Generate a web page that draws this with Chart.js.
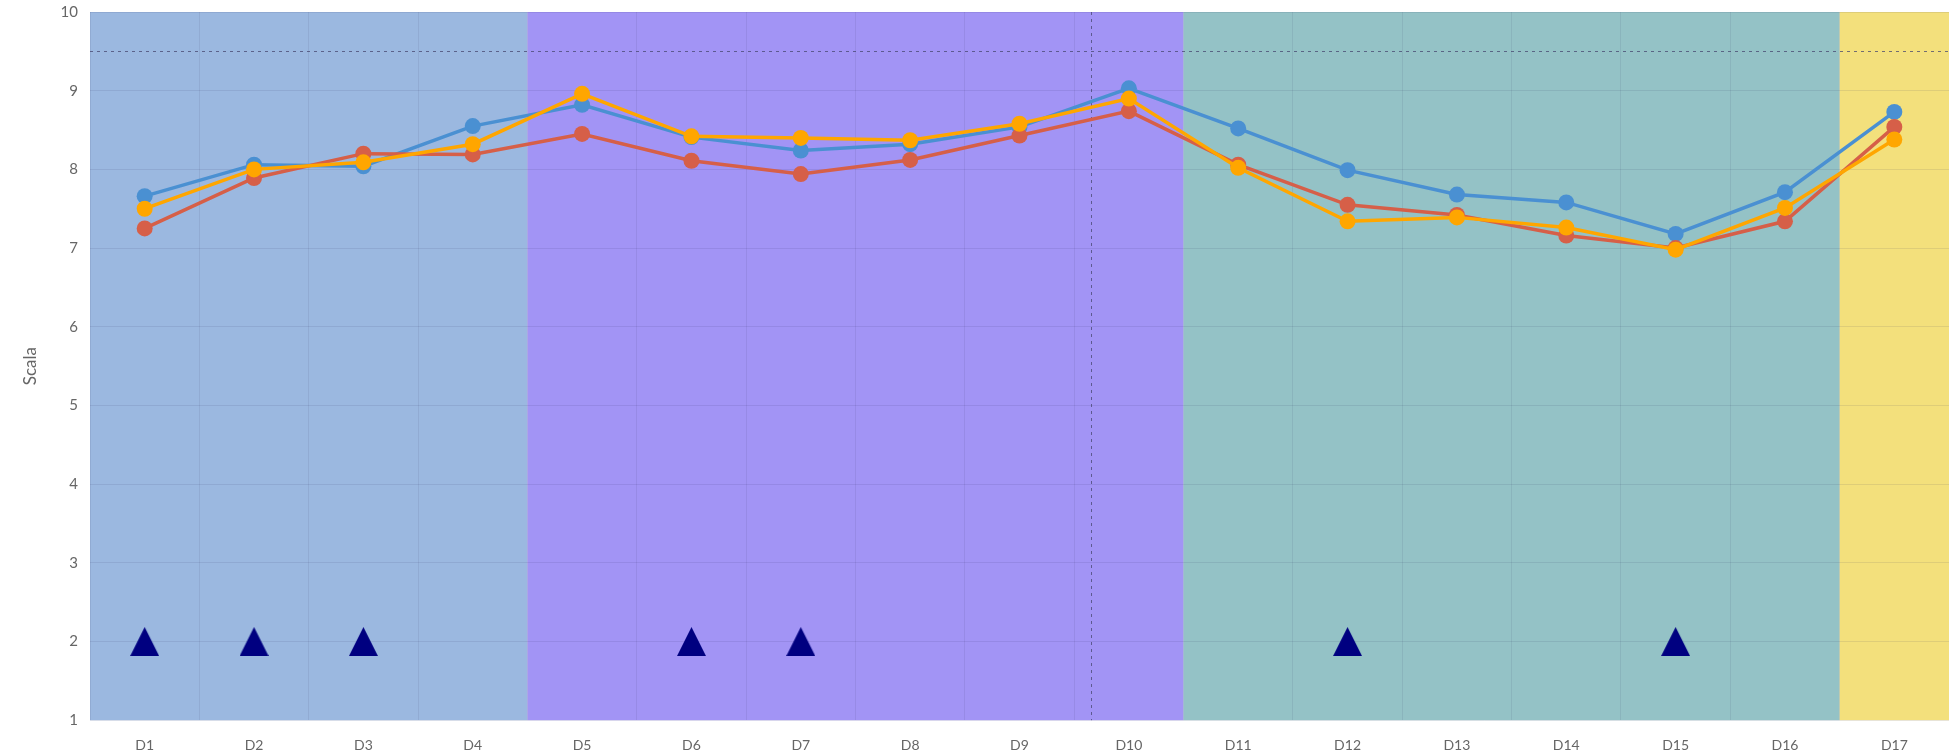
<!DOCTYPE html>
<html>
<head>
<meta charset="utf-8">
<title>Scala</title>
<script src="https://cdn.jsdelivr.net/npm/chart.js@4/dist/chart.umd.min.js"></script>
<style>
    body { margin: 0; background: #ffffff; }
    #wrap { width: 1949px; height: 756px; }
</style>
</head>
<body>
<div id="wrap"><canvas id="scalaChart"></canvas></div>
<script>
"use strict";

/* ---------- data ---------- */

const categories = [
    "D1", "D2", "D3", "D4", "D5", "D6", "D7", "D8", "D9",
    "D10", "D11", "D12", "D13", "D14", "D15", "D16", "D17"
];

const seriesBlue = [
    7.66, 8.06, 8.04, 8.55, 8.82, 8.41, 8.24, 8.32, 8.54,
    9.03, 8.52, 7.99, 7.68, 7.58, 7.18, 7.71, 8.73
];

const seriesRed = [
    7.25, 7.89, 8.20, 8.19, 8.45, 8.11, 7.94, 8.12, 8.43,
    8.74, 8.06, 7.55, 7.42, 7.16, 7.00, 7.34, 8.54
];

const seriesOrange = [
    7.50, 8.00, 8.09, 8.32, 8.96, 8.42, 8.40, 8.37, 8.58,
    8.90, 8.02, 7.34, 7.39, 7.26, 6.98, 7.51, 8.38
];

const markerValues = [
    2, 2, 2, null, null, 2, 2, null, null,
    null, null, 2, null, null, 2, null, null
];

const yTicks = [1, 2, 3, 4, 5, 6, 7, 8, 9, 10];

// first and last category of each background band
const bandRanges = [[0, 3], [4, 9], [10, 15], [16, 16]];

const refLineY = 9.5;
const refLineX = 8.65;

/* ---------- styles ---------- */

const bandColors = ["#9bb8e0", "#a294f5", "#94c2c6", "#f3e07c"];
const FONT = "Lato, 'Open Sans', sans-serif";
const TEXT = "#666666";

function makeTriangle(size, color) {
    const c = document.createElement("canvas");
    c.width = size;
    c.height = size;
    const g = c.getContext("2d");
    g.fillStyle = color;
    g.beginPath();
    g.moveTo(size / 2, 0);
    g.lineTo(size, size);
    g.lineTo(0, size);
    g.closePath();
    g.fill();
    return c;
}

const bandsPlugin = {
    id: "bands",
    beforeDraw(chart) {
        const { ctx, chartArea, scales } = chart;
        ctx.save();
        bandRanges.forEach((r, i) => {
            const x0 = scales.x.getPixelForValue(r[0] - 0.5);
            const x1 = scales.x.getPixelForValue(r[1] + 0.5);
            ctx.fillStyle = bandColors[i];
            ctx.fillRect(x0, chartArea.top, x1 - x0, chartArea.bottom - chartArea.top);
        });
        ctx.restore();
    },
    beforeDatasetsDraw(chart) {
        const { ctx, chartArea, scales } = chart;
        ctx.save();
        ctx.strokeStyle = "rgba(70, 70, 110, 0.75)";
        ctx.lineWidth = 1;
        ctx.setLineDash([3, 4]);

        const y = Math.round(scales.y.getPixelForValue(refLineY)) + 0.5;
        ctx.beginPath();
        ctx.moveTo(chartArea.left, y);
        ctx.lineTo(chartArea.right, y);
        ctx.stroke();

        const x = Math.round(scales.x.getPixelForValue(refLineX)) + 0.5;
        ctx.beginPath();
        ctx.moveTo(x, chartArea.top);
        ctx.lineTo(x, chartArea.bottom);
        ctx.stroke();
        ctx.restore();
    }
};

function lineSet(label, data, color, order) {
    return {
        label: label,
        data: data,
        borderColor: color,
        backgroundColor: color,
        borderWidth: 3.5,
        pointRadius: 8,
        pointBorderWidth: 0,
        pointHoverRadius: 8,
        tension: 0,
        order: order
    };
}

new Chart(document.getElementById("scalaChart"), {
    type: "line",
    data: {
        labels: categories,
        datasets: [
            {
                label: "Markers",
                data: markerValues,
                showLine: false,
                pointStyle: makeTriangle(29, "#000080"),
                pointRadius: 15,
                order: 0
            },
            lineSet("Orange", seriesOrange, "#ffa600", 1),
            lineSet("Red", seriesRed, "#d65f48", 2),
            lineSet("Blue", seriesBlue, "#4a90d2", 3)
        ]
    },
    options: {
        responsive: true,
        maintainAspectRatio: false,
        animation: false,
        layout: {
            autoPadding: false,
            padding: { top: 2, right: -4, bottom: -15, left: 20 }
        },
        plugins: {
            legend: { display: false },
            tooltip: { enabled: false }
        },
        scales: {
            x: {
                offset: true,
                grid: {
                    offset: true,
                    color: "rgba(40, 40, 90, 0.09)",
                    drawTicks: false
                },
                border: { display: false },
                ticks: {
                    color: TEXT,
                    font: { family: FONT, size: 14 },
                    padding: 17,
                    maxRotation: 0
                }
            },
            y: {
                min: 1,
                max: 10,
                afterBuildTicks(axis) {
                    axis.ticks = yTicks.map(v => ({ value: v }));
                },
                afterFit(axis) {
                    axis.width = 70;
                },
                grid: {
                    color: "rgba(40, 40, 90, 0.10)",
                    drawTicks: true,
                    tickLength: 9,
                    tickColor: "rgba(0, 0, 0, 0)"
                },
                border: { display: false },
                ticks: {
                    color: TEXT,
                    font: { family: FONT, size: 15 },
                    padding: 3
                },
                title: {
                    display: true,
                    text: "Scala",
                    color: TEXT,
                    font: { family: FONT, size: 17 },
                    padding: { top: 0, bottom: 0 }
                }
            }
        }
    },
    plugins: [bandsPlugin]
});
</script>
</body>
</html>
